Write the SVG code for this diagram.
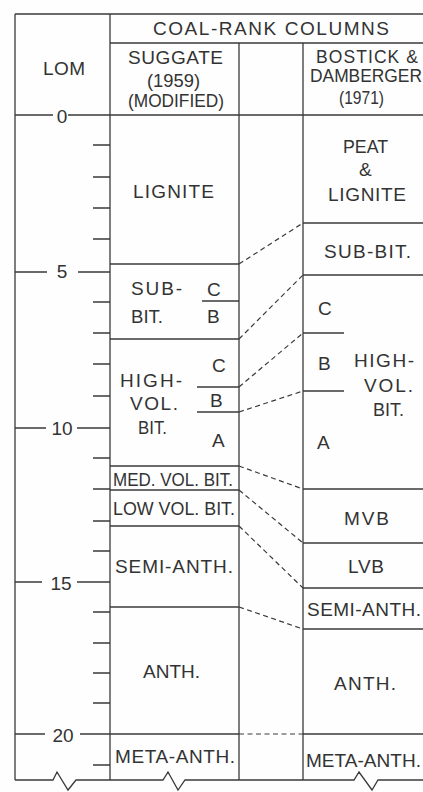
<svg xmlns="http://www.w3.org/2000/svg" width="423" height="792" viewBox="0 0 423 792">
<style>
.ln{stroke:#3a3a3a;stroke-width:1.3;fill:none}
.tk{stroke:#3a3a3a;stroke-width:1.3}
.dash{stroke:#3a3a3a;stroke-width:1.2;stroke-dasharray:5 3.5;fill:none}
text{font-family:"Liberation Sans",Arial,sans-serif;font-size:19px;fill:#333}
.n{text-anchor:middle}
.sm{font-size:17.5px}
</style>
<rect x="0" y="0" width="423" height="792" fill="#fefefe"/>
<g id="frame">
<path class="ln" d="M15,14 H423 M15,14 V780 M110,14 V780 M110,43 H423 M239,43 V780 M303,43 V780 M68,115 H423 M15,115 H53"/>
<path class="ln" d="M15,780 H53 L57,772 L68,790 L76,780 H163 L168,772 L178,790 L185,780 H354 L359,772 L372,790 L378,780 H423"/>
</g>
<g id="header">
<text x="153" y="35" textLength="236">COAL-RANK COLUMNS</text>
<text x="43" y="75" textLength="42">LOM</text>
<text x="128" y="64" textLength="95">SUGGATE</text>
<text x="147" y="87" textLength="53" lengthAdjust="spacingAndGlyphs">(1959)</text>
<text x="128" y="107" textLength="96" lengthAdjust="spacingAndGlyphs">(MODIFIED)</text>
<text class="sm" x="316" y="63" textLength="102">BOSTICK &amp;</text>
<text class="sm" x="310" y="82" textLength="112" lengthAdjust="spacingAndGlyphs">DAMBERGER</text>
<text x="339" y="104" textLength="45" lengthAdjust="spacingAndGlyphs">(1971)</text>
</g>
<g id="lom-scale">
<path class="tk" d="M93,145 H110 M93,177 H110 M93,208 H110 M93,239 H110 M93,302 H110 M93,333 H110 M93,364 H110 M93,396 H110 M93,458 H110 M93,489 H110 M93,521 H110 M93,551 H110 M93,612 H110 M93,643 H110 M93,673 H110 M93,703 H110 M93,765 H110"/>
<path class="tk" d="M15,272 H47 M78,272 H110 M15,428 H46 M77,428 H110 M15,582 H42 M77,582 H110 M15,734 H45 M80,734 H110"/>
<text class="n" x="62" y="123">0</text>
<text class="n" x="62" y="278">5</text>
<text class="n" x="62" y="435">10</text>
<text class="n" x="61" y="590">15</text>
<text class="n" x="63" y="742">20</text>
</g>
<g id="suggate">
<g id="s-lignite"><text x="133" y="198" textLength="81">LIGNITE</text><path class="ln" d="M110,264 H239"/></g>
<g id="s-subbit">
<text x="131" y="295" textLength="51">SUB-</text><text x="131" y="323" textLength="32" lengthAdjust="spacingAndGlyphs">BIT.</text>
<text x="207" y="296">C</text><text x="207" y="323">B</text>
<path class="ln" d="M202,301 H239 M110,339 H239"/></g>
<g id="s-hvb">
<text x="120" y="387" textLength="62">HIGH-</text><text x="130" y="410" textLength="48">VOL.</text><text x="138" y="434" textLength="29" lengthAdjust="spacingAndGlyphs">BIT.</text>
<text x="212" y="372">C</text><text x="210" y="407">B</text><text x="212" y="447">A</text>
<path class="ln" d="M197,387 H239 M197,412 H239 M110,466 H239"/></g>
<g id="s-mvb"><text x="113" y="486" textLength="120" lengthAdjust="spacingAndGlyphs">MED. VOL. BIT.</text><path class="ln" d="M110,490 H239"/></g>
<g id="s-lvb"><text x="113" y="515" textLength="122" lengthAdjust="spacingAndGlyphs">LOW VOL. BIT.</text><path class="ln" d="M110,526 H239"/></g>
<g id="s-semianth"><text x="115" y="573" textLength="118">SEMI-ANTH.</text><path class="ln" d="M110,607 H239"/></g>
<g id="s-anth"><text x="143" y="678" textLength="57">ANTH.</text><path class="ln" d="M110,734 H239"/></g>
<g id="s-metaanth"><text x="115" y="763" textLength="120">META-ANTH.</text></g>
</g>
<g id="bostick">
<g id="b-peat"><text x="343" y="153" textLength="45" lengthAdjust="spacingAndGlyphs">PEAT</text><text x="359" y="176">&amp;</text><text x="328" y="201" textLength="78">LIGNITE</text><path class="ln" d="M303,223 H423"/></g>
<g id="b-subbit"><text x="324" y="258" textLength="87">SUB-BIT.</text><path class="ln" d="M303,275 H423"/></g>
<g id="b-hvb">
<text x="318" y="315">C</text><text x="318" y="370">B</text><text x="317" y="449">A</text>
<text x="354" y="367" textLength="60">HIGH-</text><text x="364" y="392" textLength="49">VOL.</text><text x="373" y="416" textLength="31" lengthAdjust="spacingAndGlyphs">BIT.</text>
<path class="ln" d="M303,333 H344 M303,391 H344 M303,489 H423"/></g>
<g id="b-mvb"><text x="344" y="525" textLength="45">MVB</text><path class="ln" d="M303,543 H423"/></g>
<g id="b-lvb"><text x="348" y="573" textLength="36">LVB</text><path class="ln" d="M303,588 H423"/></g>
<g id="b-semianth"><text x="307" y="616" textLength="114">SEMI-ANTH.</text><path class="ln" d="M303,629 H423"/></g>
<g id="b-anth"><text x="334" y="690" textLength="62">ANTH.</text><path class="ln" d="M303,734 H423"/></g>
<g id="b-metaanth"><text x="306" y="767" textLength="115">META-ANTH.</text></g>
</g>
<g id="connectors">
<path class="dash" d="M239,264 L303,223"/>
<path class="dash" d="M239,339 L303,275"/>
<path class="dash" d="M239,387 L303,333"/>
<path class="dash" d="M239,412 L303,391"/>
<path class="dash" d="M239,466 L303,489"/>
<path class="dash" d="M239,490 L303,543"/>
<path class="dash" d="M239,526 L303,588"/>
<path class="dash" d="M239,607 L303,629"/>
<path class="dash" d="M239,734 L303,734"/>
</g>
</svg>
